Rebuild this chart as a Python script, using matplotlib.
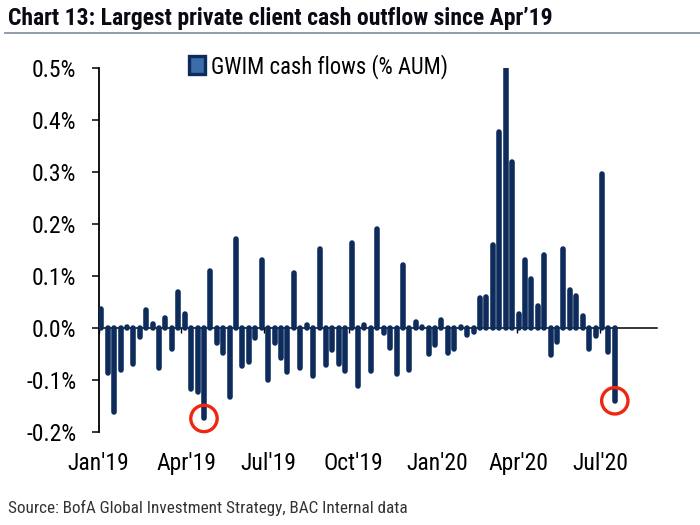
#!/usr/bin/env python3
'''GWIM cash flows as % of AUM, weekly bars with the two big outflows circled.'''
import matplotlib
matplotlib.use('Agg')
import matplotlib.dates as mdates
import matplotlib.pyplot as plt
import numpy as np
from matplotlib.patches import Patch
from matplotlib.transforms import ScaledTranslation

NARROW = ['Liberation Sans Narrow', 'Roboto Condensed', 'Liberation Sans', 'DejaVu Sans']
NAVY = '#0d2c5c'

start = np.datetime64('2019-01-04')
flows = [0.037, -0.086, -0.161, -0.081, 0.002, -0.069, -0.017, 0.034, 0.007, -0.076,
         0.020, -0.040, 0.070, 0.026, -0.118, -0.124, -0.174, 0.109, -0.029, -0.048,
         -0.132, 0.172, -0.074, -0.066, -0.019, 0.131, -0.100, -0.028, -0.058, -0.084,
         0.105, -0.076, 0.006, -0.092, 0.152, -0.071, -0.042, -0.069, -0.083, 0.163,
         -0.111, 0.006, -0.083, 0.190, -0.010, -0.039, -0.088, 0.122, -0.081, 0.012,
         0.002, -0.050, -0.033, 0.016, -0.049, -0.041, 0.002, -0.013, -0.008, 0.057,
         0.059, 0.159, 0.376, 0.500, 0.319, 0.026, 0.131, 0.095, 0.043, 0.141,
         -0.051, -0.027, 0.152, 0.074, 0.061, 0.023, -0.041, -0.016, 0.296, -0.046,
         -0.140]
outflow_weeks = [16, 80]
tick_dates = ['2019-01-01', '2019-04-01', '2019-07-01', '2019-10-01',
              '2020-01-01', '2020-04-01', '2020-07-01']
tick_labels = ["Jan'19", "Apr'19", "Jul'19", "Oct'19", "Jan'20", "Apr'20", "Jul'20"]
y_ticks = [-0.2, -0.1, 0.0, 0.1, 0.2, 0.3, 0.4, 0.5]

dates = start + np.arange(len(flows)) * np.timedelta64(7, 'D')
flows = np.array(flows)

fig = plt.figure(figsize=(7, 5.25), dpi=100)
ax = fig.add_axes([98.5 / 700, 1 - 432 / 525, (657 - 98.5) / 700, (432 - 68) / 525])

ax.vlines(dates, 0, flows, color=NAVY, lw=4.0, capstyle='round', zorder=3)
ax.scatter(dates[outflow_weeks], flows[outflow_weeks], s=360, facecolors='none',
           edgecolors='#f0260f', linewidths=2.4, zorder=4, clip_on=False)

ax.set_xlim(np.datetime64('2019-01-01'), np.datetime64('2020-09-01'))
ax.set_ylim(-0.2, 0.5)

for side in ['top', 'right']:
    ax.spines[side].set_visible(False)
ax.spines['bottom'].set_position(('data', 0))
ax.spines['bottom'].set_linewidth(1.1)
ax.spines['left'].set_linewidth(1.3)

ax.set_yticks(y_ticks)
ax.set_yticklabels([f'{v:.1f}%' for v in y_ticks], family=NARROW, fontsize=17)
ax.tick_params(axis='y', length=5, width=1.1, pad=11)
ax.set_xticks(mdates.date2num(np.array(tick_dates, dtype='datetime64[D]')))
ax.set_xticklabels(tick_labels, family=NARROW, fontsize=17)
ax.tick_params(axis='x', length=3.5, width=1.0, pad=86)

# the labels sit a few px right of their ticks in the original
for label, dx in zip(ax.get_xticklabels(), [0, 5, 4, 5, 4, 2, 0]):
    label.set_transform(label.get_transform() + ScaledTranslation(dx / 100, 0, fig.dpi_scale_trans))

ax.legend(handles=[Patch(facecolor='#3b6ea8', edgecolor=NAVY, lw=2.4, label='GWIM cash flows (% AUM)')],
          loc='upper left', bbox_to_anchor=(0.125, 1.095), frameon=False, handlelength=0.7,
          handleheight=0.85, handletextpad=0.3, prop={'family': NARROW, 'size': 16.3})

fig.text(8 / 700, 1 - 18 / 525, "Chart 13: Largest private client cash outflow since Apr\u201919",
         family=NARROW, fontsize=17, fontweight='bold', va='center', color='#0a0a14')
fig.add_artist(plt.Line2D([5 / 700, 1], [1 - 33 / 525] * 2, color='#8a93a0', lw=1.3))
fig.text(8 / 700, 1 - 508 / 525, 'Source: BofA Global Investment Strategy, BAC Internal data',
         family=NARROW, fontsize=12.3, va='center', color='#333333')

fig.savefig('out.png', dpi=100)
